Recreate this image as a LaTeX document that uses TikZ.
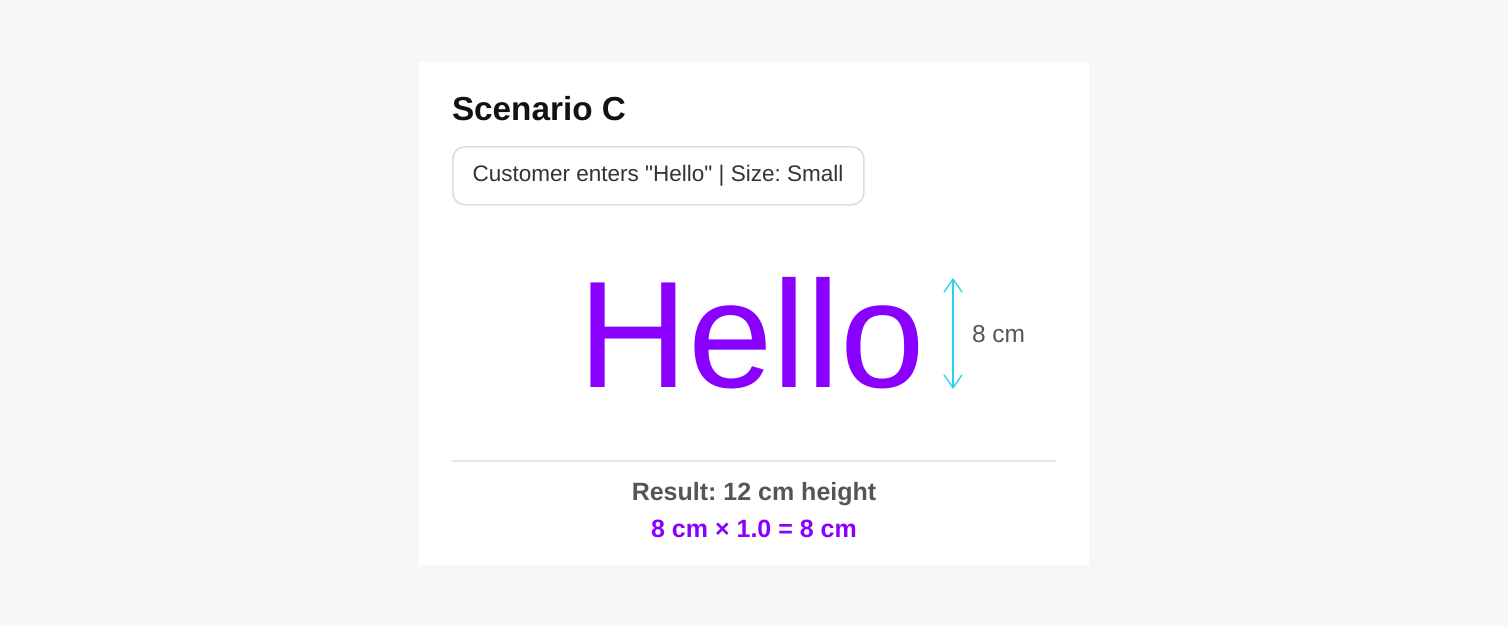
\documentclass[tikz,border=0pt]{standalone}
\usepackage{fontspec}
\setmainfont{Liberation Sans}[Ligatures=TeXOff]
\usetikzlibrary{arrows.meta}
\frenchspacing
\definecolor{bg}{HTML}{F7F7F7}
\definecolor{pillborder}{HTML}{DDDDDD}
\definecolor{pilltext}{HTML}{333333}
\definecolor{purp}{HTML}{8A00FF}
\definecolor{cyanline}{HTML}{22D3EE}
\definecolor{graytext}{HTML}{555555}
\definecolor{divider}{HTML}{E5E5E5}
\tikzset{
  txt/.style={anchor=base, inner sep=0pt, outer sep=0pt},
  pillbox/.style={draw=pillborder, line width=1.6pt, rounded corners=12pt, fill=white, inner sep=0pt, anchor=north west},
  dimarrow/.style={draw=cyanline, line width=1.3pt, {Straight Barb[length=13pt,width=18pt,line width=1.3pt]}-{Straight Barb[length=13pt,width=18pt,line width=1.3pt]}},
}
\begin{document}
\begin{tikzpicture}[x=1pt,y=-1pt]
\fill[bg] (0,0) rectangle (1508,626);
\useasboundingbox (0,0) rectangle (1508,626);
\fill[white] (419,62) rectangle (1089,565);
\node[txt, anchor=base west, font=\bfseries\fontsize{33.3}{40}\selectfont, text=black!93] (title) at (452,121) {Scenario C};
\node[pillbox, minimum width=411pt, minimum height=58pt] (pill) at (452,146) {};
\node[txt, font=\fontsize{22.5}{27}\selectfont, text=pilltext] (pilltxt) at (658,181.5) {Customer enters "Hello" | Size: Small};
\node[txt, font=\fontsize{152}{160}\selectfont, text=purp] (hello) at (751.5,387) {Hello};
\coordinate (atop) at (953,278);
\coordinate (abot) at (953,389);
\draw[dimarrow] (atop) -- (abot);
\node[txt, anchor=base west, font=\fontsize{24.5}{29}\selectfont, text=graytext] (dimlbl) at (972,342) {8 cm};
\coordinate (dl) at (452,461);
\coordinate (dr) at (1056,461);
\draw[divider, line width=1.6pt] (dl) -- (dr);
\node[txt, font=\bfseries\fontsize{25}{30}\selectfont, text=graytext] (result) at (754,500) {Result: 12 cm height};
\node[txt, font=\bfseries\fontsize{25}{30}\selectfont, text=purp] (formula) at (754,537) {8 cm × 1.0 = 8 cm};
\end{tikzpicture}
\end{document}
